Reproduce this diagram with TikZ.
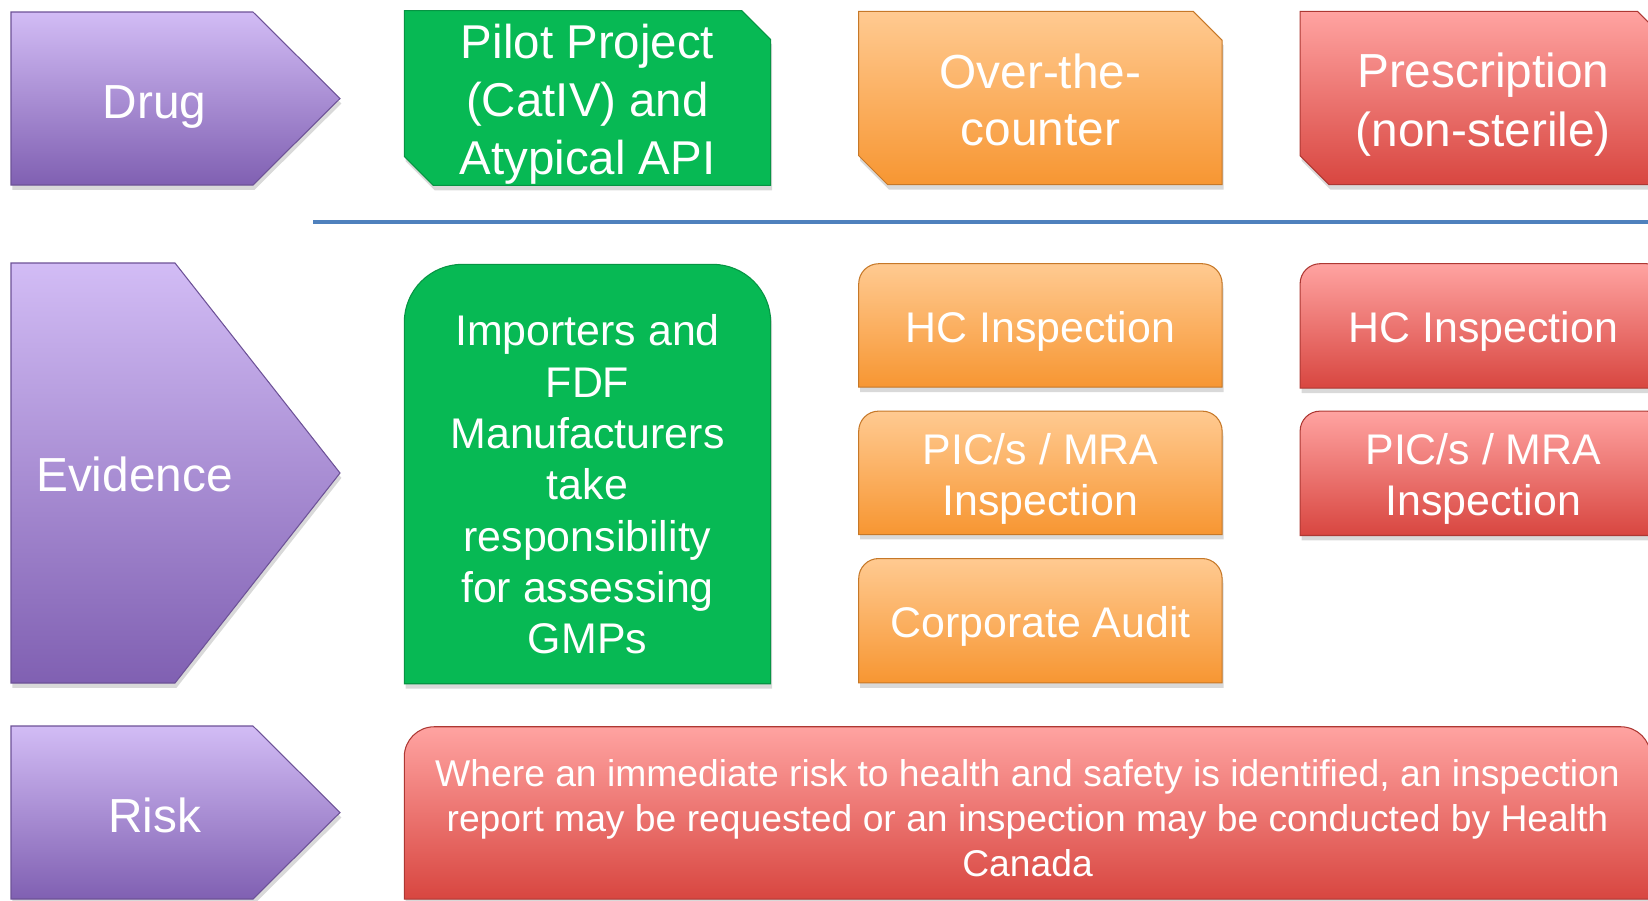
\documentclass[tikz,border=0pt]{standalone}
\usepackage{fontspec}
\setmainfont{Liberation Sans}
\usetikzlibrary{positioning}
\usetikzlibrary{backgrounds}
\usetikzlibrary{shadows}

\definecolor{purpleTop}{RGB}{210,188,245}
\definecolor{purpleBot}{RGB}{128,96,178}
\definecolor{gmpGreen}{RGB}{7,185,84}
\definecolor{orangeTop}{RGB}{255,202,145}
\definecolor{orangeBot}{RGB}{247,150,50}
\definecolor{redTop}{RGB}{255,163,161}
\definecolor{redBot}{RGB}{216,70,64}
\definecolor{ruleBlue}{RGB}{79,129,189}

\begin{document}
\begin{tikzpicture}[
    panel/.style={drop shadow={opacity=0.3, shadow xshift=0.4pt, shadow yshift=-1.4pt}, line width=0.3pt},
    purplefill/.style={panel, top color=purpleTop, bottom color=purpleBot, draw=purpleBot!85!black},
    greenfill/.style={panel, fill=gmpGreen, draw=gmpGreen!80!black},
    orangefill/.style={panel, top color=orangeTop, bottom color=orangeBot, draw=orangeBot!80!black},
    redfill/.style={panel, top color=redTop, bottom color=redBot, draw=redBot!80!black},
    % fixed ascent/descent so every text block sits the same way
    linebox/.style={execute at begin node={\rule{0pt}{1em}}, execute at end node={\rule[-0.2em]{0pt}{0pt}}},
    hdr/.style={linebox, text=white, inner sep=0pt, font=\fontsize{13.6pt}{16pt}\selectfont},
    cell/.style={linebox, rectangle, text=white, align=flush center, inner sep=0pt, minimum width=3.65cm, text width=3.4cm},
    toprow/.style={cell, minimum height=1.72cm, font=\fontsize{13.6pt}{16.4pt}\selectfont},
    evbox/.style={cell, font=\fontsize{12.2pt}{14.6pt}\selectfont},
]
    \useasboundingbox (0,0) rectangle (16.48,-9);

    % row headers
    \foreach \ytop/\ybot/\xneck in {0.12/1.85/2.53, 2.63/6.83/1.75, 7.26/8.99/2.53}
        \path[purplefill] (0.11,-\ytop) -- (\xneck,-\ytop) -- (3.40,{-(\ytop+\ybot)/2})
            -- (\xneck,-\ybot) -- (0.11,-\ybot) -- cycle;

    \node[hdr] (drug) at (1.545,-1.00) {Drug};
    \node[hdr] (evidence) at (1.345,-4.72) {Evidence};
    \node[hdr] (riskhdr) at (1.545,-8.13) {Risk};

    % divider under the drug row
    \coordinate (ruleL) at (3.13,-2.22);
    \coordinate (ruleR) at (16.48,-2.22);
    \draw[ruleBlue, line width=1.1pt] (ruleL) -- (ruleR);

    % drug classes
    \node[toprow, font=\fontsize{13.5pt}{16.5pt}\selectfont] (pilot) at (5.875,-0.98) {Pilot Project\\(CatIV) and\\Atypical API};
    \node[toprow] (otc) [right=0.88cm of pilot, minimum width=3.62cm] {Over-the-\\counter};
    \node[toprow, font=\fontsize{13.6pt}{16.8pt}\selectfont] (presc) [right=0.78cm of otc] {Prescription\\(non-sterile)};

    % evidence
    \node[evbox, minimum height=4.18cm, execute at begin node={\rule{0pt}{1.4em}}] (imp) [below=0.79cm of pilot] {Importers and\\FDF\\Manufacturers\\take\\responsibility\\for assessing\\GMPs};
    \node[evbox, minimum height=1.22cm, minimum width=3.62cm] (hco) [below=0.79cm of otc] {HC Inspection};
    \node[evbox, minimum height=1.22cm, minimum width=3.62cm] (pico) [below=0.24cm of hco] {PIC/s / MRA\\Inspection};
    \node[evbox, minimum height=1.23cm, minimum width=3.62cm] (corp) [below=0.24cm of pico] {Corporate Audit};
    \node[evbox, minimum height=1.23cm] (hcr) [below=0.79cm of presc] {HC Inspection};
    \node[evbox, minimum height=1.23cm] (picr) [below=0.23cm of hcr] {PIC/s / MRA\\Inspection};

    % risk
    \node[cell, minimum width=12.45cm, text width=12.2cm, minimum height=1.71cm, font=\fontsize{10.6pt}{12.7pt}\selectfont,
          execute at begin node={\rule{0pt}{1.2em}}] (riskbox) [below=0.43cm of imp.south west, anchor=north west] {Where an immediate risk to health and safety is identified, an inspection\\report may be requested or an inspection may be conducted by Health\\Canada};

    \begin{scope}[on background layer]
        \foreach \n/\s in {pilot/greenfill, otc/orangefill, presc/redfill}
            \path[\s] (\n.north west) -- ([xshift=-0.29cm]\n.north east) -- ([yshift=-0.29cm]\n.north east)
                -- (\n.south east) -- ([xshift=0.29cm]\n.south west) -- ([yshift=0.29cm]\n.south west) -- cycle;
        \foreach \n/\s/\r in {imp/greenfill/0.58, hco/orangefill/0.2, pico/orangefill/0.2, corp/orangefill/0.2,
                              hcr/redfill/0.2, picr/redfill/0.2, riskbox/redfill/0.3}
            \path[\s] (\n.south west) -- ([yshift=-\r cm]\n.north west) arc[start angle=180, end angle=90, radius=\r]
                -- ([xshift=-\r cm]\n.north east) arc[start angle=90, end angle=0, radius=\r] -- (\n.south east) -- cycle;
    \end{scope}
\end{tikzpicture}
\end{document}
